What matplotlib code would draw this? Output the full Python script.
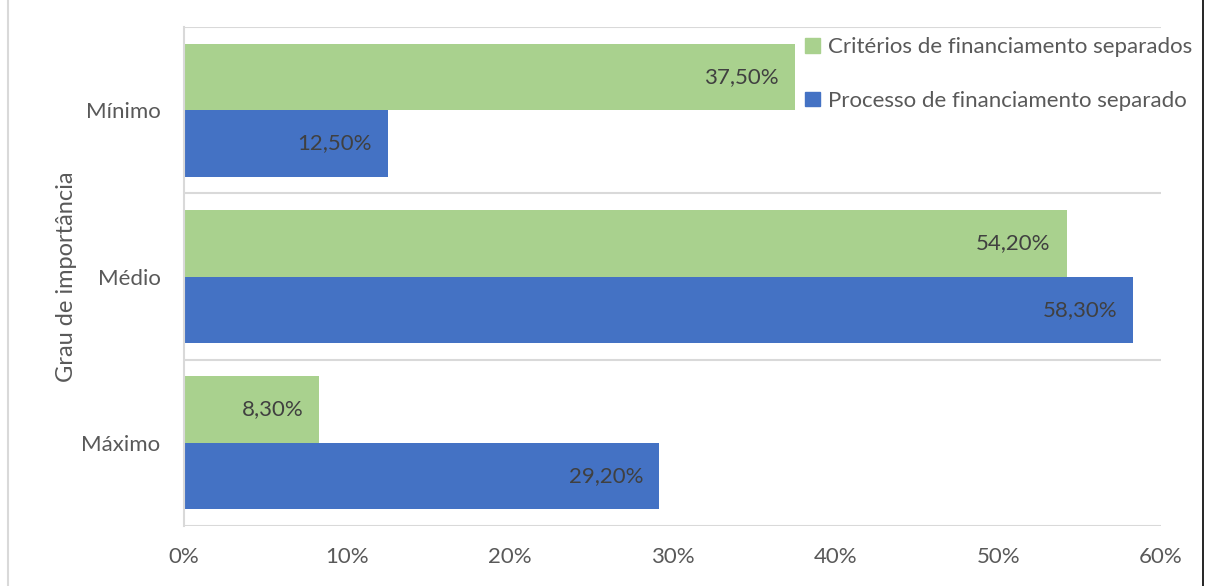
import matplotlib.pyplot as plt
from matplotlib.lines import Line2D
from matplotlib.patches import Patch
from matplotlib.ticker import MultipleLocator, FuncFormatter
import numpy as np

plt.rcParams['font.family'] = ['Lato', 'DejaVu Sans']

# dados
categorias = ['Máximo', 'Médio', 'Mínimo']
criterios = [8.3, 54.2, 37.5]   # Critérios de financiamento separados (%)
processo = [29.2, 58.3, 12.5]   # Processo de financiamento separado (%)
serie_nomes = ['Critérios de financiamento separados', 'Processo de financiamento separado']

verde = '#A9D18E'
azul = '#4472C4'
cinza_grade = '#D9D9D9'

fig = plt.figure(figsize=(12.06, 5.86), dpi=100)
ax = fig.add_axes([0.1526, 0.1024, 0.8101, 0.8515])

y = np.arange(len(categorias))
h = 0.4
b1 = ax.barh(y + h / 2, criterios, height=h, color=verde)
b2 = ax.barh(y - h / 2, processo, height=h, color=azul)

def fmt_pct(v):
    return f'{v:.2f}'.replace('.', ',') + '%'

for barras, vals in ((b1, criterios), (b2, processo)):
    for r, v in zip(barras, vals):
        ax.annotate(fmt_pct(v), (v, r.get_y() + r.get_height() / 2),
                    xytext=(-11.5, 0), textcoords='offset points',
                    ha='right', va='center', fontsize=16, color='#404040')

ax.set_xlim(0, 60)
ax.set_ylim(-0.5, 2.5)
ax.xaxis.set_major_locator(MultipleLocator(10))
ax.xaxis.set_major_formatter(FuncFormatter(lambda v, p: f'{v:.0f}%'))
ax.set_yticks(y)
ax.set_yticklabels(categorias)
ax.tick_params(axis='both', length=0, labelsize=16, colors='#595959')
ax.tick_params(axis='x', pad=15)
ax.tick_params(axis='y', pad=17)

# linhas de separação das categorias
ax.set_yticks([-0.5, 0.5, 1.5, 2.5], minor=True)
ax.tick_params(axis='y', which='minor', length=0)
ax.grid(axis='y', which='minor', color=cinza_grade, linewidth=1.5)
ax.set_axisbelow(True)

for s in ['top', 'right', 'bottom']:
    ax.spines[s].set_visible(False)
ax.spines['left'].set_color(cinza_grade)
ax.spines['left'].set_linewidth(1.5)

ax.set_ylabel('Grau de importância', fontsize=17, color='#595959', labelpad=3)

handles = [Patch(color=verde), Patch(color=azul)]
leg = ax.legend(handles, serie_nomes, loc='upper right', bbox_to_anchor=(1.052, 1.02),
                frameon=False, fontsize=16, labelspacing=1.52,
                handlelength=0.65, handleheight=0.65, handletextpad=0.35,
                labelcolor='#595959')

# bordas da área do gráfico
fig.add_artist(Line2D([8 / 1206, 8 / 1206], [0, 1], color='#D9D9D9', linewidth=1.5))
fig.add_artist(Line2D([1203 / 1206, 1203 / 1206], [0, 1], color='black', linewidth=1.2))

fig.savefig('out.png', dpi=100)
